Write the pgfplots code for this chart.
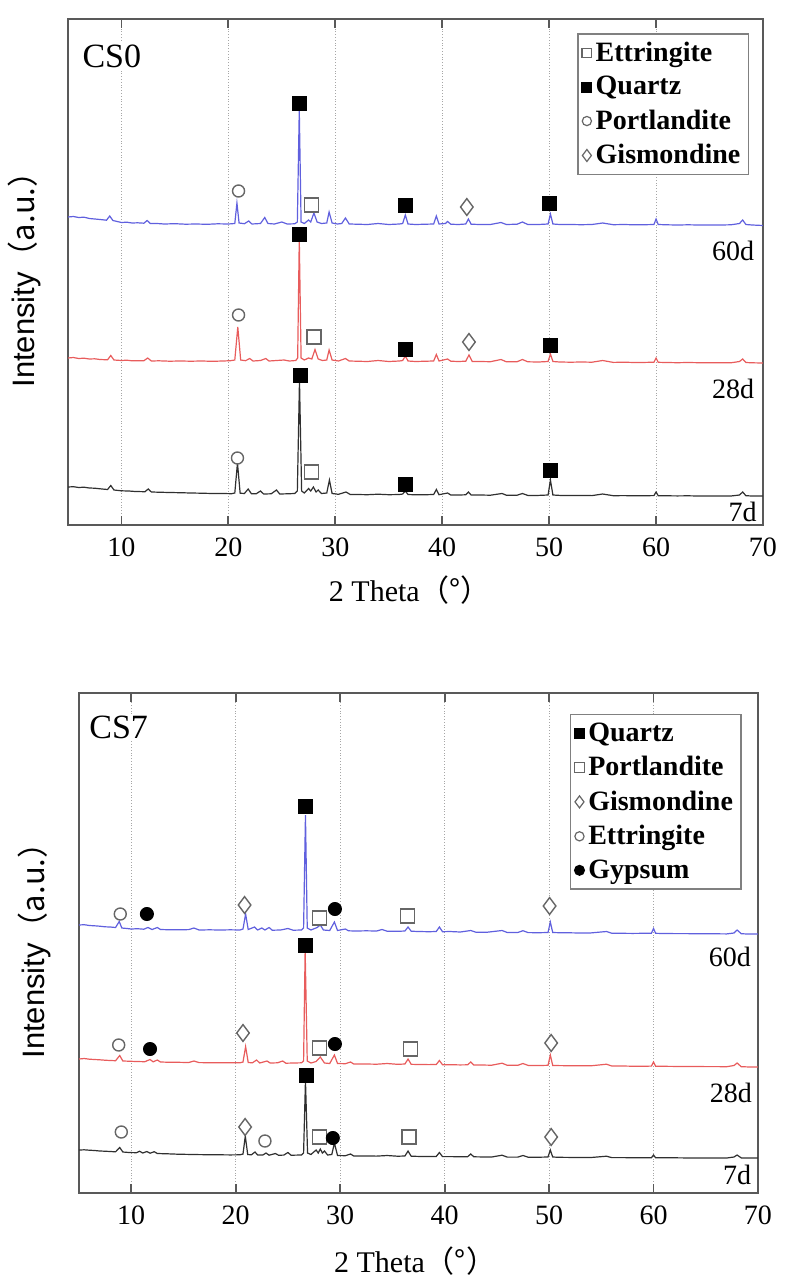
\documentclass[border=0pt]{standalone}
\usepackage{fontspec}
\setmainfont{Liberation Serif}
\newfontfamily\sansf{Liberation Sans}
\newfontfamily\cjk{Noto Sans CJK SC}
\usepackage{pgfplots}
\pgfplotsset{compat=1.18}
\definecolor{cblue}{RGB}{96,96,222}
\definecolor{cred}{RGB}{232,92,92}
\definecolor{cblack}{RGB}{48,48,48}
\pgfplotsset{
  xrdaxis/.style={
    scale only axis,
    xmin=5, xmax=70, xtick={10,20,...,70},
    ytick=\empty,
    xmajorgrids, grid style={densely dotted, black!35, line width=0.5pt},
    axis line style={black!65, line width=1.1pt},
    major tick length=4.5pt, tick align=inside,
    xtick pos=both, xticklabel pos=bottom,
    major tick style={black!65, line width=0.9pt},
    /pgf/number format/assume math mode=true,
    xticklabel style={font=\rmfamily\fontsize{14pt}{16pt}\selectfont, yshift=-3pt},
    xlabel style={font=\rmfamily\fontsize{15pt}{17pt}\selectfont, anchor=center},
    ylabel style={font=\sansf\fontsize{15.5pt}{17pt}\selectfont, anchor=center},
    legend style={font=\rmfamily\fontsize{14pt}{16pt}\selectfont\bfseries, draw=black!50, line width=0.7pt,
      fill=white, inner sep=2pt, row sep=2pt, cells={anchor=west}, anchor=north east},
    legend cell align=left,
  },
  fsq/.style={only marks, mark=square*, mark size=3.5pt, mark options={fill=black, draw=black}},
  osq/.style={only marks, mark=square*, mark size=3.5pt, mark options={fill=white, draw=black!60, line width=0.7pt}},
  ocir/.style={only marks, mark=*, mark size=3pt, mark options={fill=white, draw=black!60, line width=0.7pt}},
  fcir/.style={only marks, mark=*, mark size=3.3pt, mark options={fill=black, draw=black}},
  dia/.style={only marks, mark=diamond*, mark size=4.2pt, mark options={fill=white, draw=black!60, line width=0.7pt}},
  lfsq/.style={only marks, mark=square*, mark size=2.4pt, mark options={fill=black, draw=black}},
  losq/.style={only marks, mark=square*, mark size=2.4pt, mark options={fill=white, draw=black!60, line width=0.6pt}},
  locir/.style={only marks, mark=*, mark size=2.3pt, mark options={fill=white, draw=black!60, line width=0.6pt}},
  lfcir/.style={only marks, mark=*, mark size=2.4pt, mark options={fill=black, draw=black}},
  ldia/.style={only marks, mark=diamond*, mark size=3pt, mark options={fill=white, draw=black!60, line width=0.6pt}},
}
\begin{document}
\begin{tikzpicture}
\path[use as bounding box] (0,0) rectangle (392.5pt,-639.5pt);
% ---------------- CS0 ----------------
\begin{axis}[xrdaxis,
  at={(34pt,-262.5pt)}, anchor=south west,
  width=347.5pt, height=253pt, ymin=0, ymax=506,
  xlabel={2 Theta\cjk{（}°\cjk{）}},
  xlabel style={at={(axis description cs:0.492,-0.128)}},
  ylabel={Intensity\cjk{（}a.u.\cjk{）}},
  ylabel style={at={(axis description cs:-0.062,0.5)}},
  legend style={at={(axis description cs:0.98,0.972)}},
]
\addlegendimage{losq}\addlegendentry{Ettringite}
\addlegendimage{lfsq}\addlegendentry{Quartz}
\addlegendimage{locir}\addlegendentry{Portlandite}
\addlegendimage{ldia}\addlegendentry{Gismondine}
% 60d
\addplot[cblue, line width=0.6pt, forget plot] coordinates {
(5,308) (5.5,308.5) (6,307.5) (6.5,307.8) (7,306.5) (7.5,306) (8,305.5) (8.6,304.8) (8.9,309) (9.2,304.5) (9.6,303.5) (10,302.5) (10.5,302.8) (11,302) (11.5,302.2) (12.1,301.8) (12.4,304.5) (12.7,301.5) (13.2,301.6) (14,301) (15,301.3) (16,300.8) (17,301) (18,300.7) (19,301.2) (20,301) (20.6,301.5) (20.8,322) (21.0,302) (21.5,301.3) (21.9,304) (22.2,301) (23,301.5) (23.4,307.5) (23.7,301.5) (24.3,301) (25,303) (25.5,301) (26.2,301.2) (26.45,303) (26.63,415) (26.8,303) (27.1,301.5) (27.5,305) (27.7,303) (28.0,312) (28.3,303) (28.7,301.5) (29.2,302) (29.42,313) (29.7,302) (30.2,301) (30.6,301.5) (30.95,307) (31.3,301) (32,300.8) (33,300.5) (34,301.5) (35,300.5) (36,301) (36.3,301.5) (36.55,310) (36.8,301) (37.5,300.5) (38.5,300.8) (39.2,301) (39.45,309) (39.7,301) (40.3,301.5) (40.5,303.5) (40.8,300.8) (41.5,300.5) (42.2,301) (42.45,306) (42.7,300.8) (43.5,300.5) (44.5,300.5) (45.5,302.5) (46,300.5) (47,300.8) (47.5,303) (48,300.5) (49,300.5) (49.9,301) (50.12,311) (50.35,301) (51,300.5) (52,300.5) (53,300.3) (54,300.5) (55,302) (56,300.3) (57,300.5) (58,300.2) (59,300.3) (59.8,300.5) (60,306) (60.2,300.5) (61,300.2) (62,300) (63,300.2) (64,300) (65,300) (66,300) (67,300.2) (67.8,301.5) (68.1,305) (68.4,300.5) (69,300) (70,299.5)
};
% 28d
\addplot[cred, line width=0.6pt, forget plot] coordinates {
(5,167) (5.5,167.5) (6,166.5) (6.5,166.8) (7,166) (7.5,166.2) (8,165.5) (8.7,165.2) (9.0,169.5) (9.3,165) (10,164.5) (10.5,164.8) (11,164.2) (12.1,164.3) (12.45,167) (12.8,164) (13.5,164.2) (14.5,163.8) (15.5,164) (16.5,163.8) (17.5,164) (18.5,163.7) (19.5,164) (20.2,164.3) (20.6,165) (20.88,198) (21.15,165) (21.6,164.3) (22.0,166.5) (22.3,164) (23,164.5) (23.5,166.5) (23.8,164) (24.5,164.5) (25.2,165) (25.7,164) (26.3,164.5) (26.48,167) (26.63,286) (26.8,167) (27.1,165) (27.5,167) (27.8,166) (28.1,175.5) (28.4,166) (28.8,164.5) (29.2,165) (29.42,175) (29.7,165) (30.3,164) (30.95,166.5) (31.3,164) (32,163.8) (33,163.5) (34,164.5) (35,163.5) (36,164) (36.3,164.5) (36.55,169) (36.8,164) (37.5,163.5) (38.5,163.8) (39.2,164) (39.45,170.5) (39.7,164) (40.5,166) (40.8,163.8) (41.5,163.5) (42.2,163.8) (42.5,170) (42.8,163.6) (43.5,163.5) (44.5,163.3) (45.5,165.5) (46,163.2) (47,163.3) (47.5,165.5) (48,163.2) (49,163) (49.9,163.5) (50.12,171) (50.35,163.5) (51,163) (52,162.8) (53,163) (54,162.8) (55,164.5) (56,162.6) (57,162.8) (58,162.5) (59,162.6) (59.8,162.8) (60,167) (60.2,162.7) (61,162.5) (62,162.3) (63,162.5) (64,162.3) (65,162.2) (66,162.3) (67,162.2) (67.8,163.5) (68.1,166) (68.4,162.5) (69,162.2) (70,162)
};
% 7d
\addplot[cblack, line width=0.6pt, forget plot] coordinates {
(5,38) (5.5,38.3) (6,37.5) (6.5,37.8) (7,37) (7.5,36.8) (8,36.2) (8.7,35.5) (9.0,39.5) (9.3,35) (10,34.2) (10.7,34) (11.3,33.5) (12.2,33.3) (12.5,36) (12.8,33) (13.5,32.8) (14.5,32.5) (15.5,32.3) (16.5,32) (17.5,31.8) (18.5,31.5) (19.5,31.5) (20.3,31.3) (20.6,32) (20.85,62) (21.1,31.8) (21.5,31.5) (21.85,36) (22.15,31.3) (22.6,31.2) (23.0,34) (23.3,31) (24.0,31.2) (24.5,35) (24.8,31) (25.5,31.2) (26.2,31.5) (26.45,34) (26.65,144.5) (26.85,34) (27.1,32) (27.5,36.5) (27.7,34) (27.95,38) (28.2,33) (28.4,35) (28.7,31.5) (29.2,32) (29.45,45) (29.7,31.5) (30.3,30.7) (31.0,33) (31.4,30.5) (32,30.5) (33,30.3) (34,30.8) (35,30.3) (36,30.5) (36.3,31) (36.55,34) (36.8,30.5) (37.5,30.2) (38.5,30.3) (39.2,30.5) (39.45,35.5) (39.7,30.3) (40.5,32) (40.8,30) (41.5,30) (42.2,30.2) (42.45,33) (42.7,30) (43.5,30) (44.5,29.8) (45.6,31.5) (46,29.8) (47,29.8) (47.5,31.5) (48,29.6) (49,29.6) (49.9,30) (50.12,45) (50.35,30) (51,29.6) (52,29.5) (53,29.5) (54,29.4) (55,31) (56,29.3) (57,29.4) (58,29.2) (59,29.3) (59.8,29.4) (60,33) (60.2,29.3) (61,29.2) (62,29.1) (63,29.2) (64,29) (65,29) (66,29.1) (67,29) (67.8,30) (68.1,33) (68.4,29.3) (69,29) (70,29)
};
\addplot[fsq, forget plot] coordinates {(26.6,422) (36.55,320) (50.05,322) (26.6,291) (36.55,176) (50.1,180) (26.7,150) (36.55,41) (50.1,55)};
\addplot[osq, forget plot] coordinates {(27.8,320) (28.0,188) (27.8,53)};
\addplot[ocir, forget plot] coordinates {(20.95,334) (20.95,210) (20.85,67)};
\addplot[dia, forget plot] coordinates {(42.3,318) (42.5,183)};
\node[fill=white, inner sep=1pt, font=\fontsize{17pt}{19pt}\selectfont] at (axis cs:9.1,469) {CS0};
\node[font=\fontsize{14pt}{16pt}\selectfont] at (axis cs:67.2,274) {60d};
\node[font=\fontsize{14pt}{16pt}\selectfont] at (axis cs:67.2,136) {28d};
\node[font=\fontsize{14pt}{16pt}\selectfont] at (axis cs:68.1,13) {7d};
\end{axis}
% ---------------- CS7 ----------------
\begin{axis}[xrdaxis,
  at={(39.5pt,-596.5pt)}, anchor=south west,
  width=339.5pt, height=250pt, ymin=0, ymax=500,
  xlabel={2 Theta\cjk{（}°\cjk{）}},
  xlabel style={at={(axis description cs:0.495,-0.136)}},
  ylabel={Intensity\cjk{（}a.u.\cjk{）}},
  ylabel style={at={(axis description cs:-0.065,0.5)}},
  legend style={at={(axis description cs:0.976,0.958)}},
]
\addlegendimage{lfsq}\addlegendentry{Quartz}
\addlegendimage{losq}\addlegendentry{Portlandite}
\addlegendimage{ldia}\addlegendentry{Gismondine}
\addlegendimage{locir}\addlegendentry{Ettringite}
\addlegendimage{lfcir}\addlegendentry{Gypsum}
% 60d
\addplot[cblue, line width=0.6pt, forget plot] coordinates {
(5,268) (5.5,268.3) (6,267.5) (6.5,267.2) (7,266.8) (7.5,266.2) (8,266) (8.5,265.5) (8.85,271.5) (9.1,265) (9.6,264.5) (10,264) (10.6,264.3) (11.2,263.8) (11.6,265.5) (12,263.5) (12.5,265.5) (12.8,263.5) (13.5,263.3) (14.5,263.2) (15.5,263.4) (16,265) (16.5,263) (17.5,263.2) (18.5,263) (19.5,263.2) (20.4,263) (20.7,264) (20.95,279) (21.2,263.5) (21.8,266) (22.1,263) (22.5,265) (22.8,263) (23.2,265.5) (23.5,262.8) (24.3,263) (25,264.5) (25.5,262.8) (26.3,263) (26.5,265) (26.68,378) (26.85,265) (27.2,263) (27.8,265.5) (28.1,268) (28.4,263) (29.0,262.5) (29.45,271) (29.75,262.5) (30.5,264) (30.8,262.2) (31.5,262) (32.5,262.2) (33.5,262) (34,263.5) (34.5,261.8) (35.5,261.7) (36.2,262) (36.5,266) (36.8,261.8) (37.5,261.5) (38.5,261.3) (39.2,261.5) (39.5,266) (39.8,261.3) (40.5,261.5) (41.5,261) (42.5,262.5) (43,260.8) (44,260.7) (45.5,262.5) (46,260.5) (47,260.5) (47.5,262.3) (48,260.4) (49,260.3) (49.9,260.5) (50.12,271) (50.35,260.5) (51,260.3) (52,260.2) (53,260) (54,260.1) (55.5,261.5) (56,259.8) (57,259.7) (58,259.6) (59,259.7) (59.8,259.8) (60,264.5) (60.2,259.7) (61,259.5) (62,259.4) (63,259.4) (64,259.3) (65,259.2) (66,259.2) (67,259.1) (67.7,260) (68.0,263) (68.4,259.3) (69,259) (70,259)
};
% 28d
\addplot[cred, line width=0.6pt, forget plot] coordinates {
(5,134) (5.5,134.5) (6,133.8) (6.5,133.5) (7,133.2) (7.5,132.8) (8,132.5) (8.5,132.3) (8.9,137.5) (9.2,132) (9.8,131.8) (10.5,131.5) (11.3,131.3) (11.8,133.5) (12.1,131.2) (12.5,133) (12.8,131) (13.5,130.8) (14.5,130.7) (15.5,130.5) (16,132) (16.5,130.4) (17.5,130.3) (18.5,130.2) (19.5,130.3) (20.4,130.2) (20.7,131) (20.95,146.4) (21.2,130.5) (21.6,130.2) (22.0,133) (22.3,130) (23.0,132) (23.3,130) (24,130.2) (24.5,132) (24.8,129.8) (25.5,130) (26.3,130.2) (26.5,132) (26.65,243) (26.85,132) (27.2,130) (27.7,131.5) (28.1,136) (28.5,130) (29.0,129.5) (29.45,138) (29.75,129.5) (30.5,129.3) (31.0,131) (31.3,129) (32.5,129) (33.5,128.8) (34.5,129.5) (35.5,128.7) (36.2,129) (36.5,134) (36.8,128.7) (37.5,128.5) (38.5,128.4) (39.2,128.5) (39.5,132.5) (39.8,128.3) (40.5,128.3) (41.5,128.1) (42.2,128.2) (42.5,131) (42.8,128) (43.5,128) (44.5,127.8) (45.5,129.8) (46,127.7) (47,127.7) (47.5,129.5) (48,127.6) (49,127.5) (49.9,127.7) (50.12,138) (50.35,127.6) (51,127.4) (52,127.3) (53,127.2) (54,127.2) (55.5,128.8) (56,127) (57,127) (58,126.8) (59,126.8) (59.8,126.9) (60,131) (60.2,126.8) (61,126.7) (62,126.6) (63,126.6) (64,126.5) (65,126.4) (66,126.4) (67,126.3) (67.7,127.5) (68.0,130) (68.4,126.3) (69,126.1) (70,126)
};
% 7d
\addplot[cblack, line width=0.6pt, forget plot] coordinates {
(5,43) (5.5,43.2) (6,42.8) (6.5,42.5) (7,42) (7.5,41.8) (8,41.5) (8.5,41.2) (8.9,45.5) (9.2,41) (9.8,40.5) (10.5,40.3) (10.8,41.8) (11.1,40) (11.5,41.5) (11.8,39.8) (12.2,41.3) (12.5,39.5) (13.5,39.2) (14.5,38.8) (15.5,38.6) (16.5,38.4) (17.5,38.3) (18.5,38.2) (19.5,38.1) (20.4,38.2) (20.7,39) (20.92,57) (21.15,38.5) (21.5,38.2) (21.85,41) (22.1,38) (22.6,38) (22.9,40) (23.2,37.8) (23.8,39.5) (24.1,37.8) (24.6,37.9) (25.0,40.5) (25.3,37.8) (26.3,38) (26.5,40) (26.68,112.5) (26.88,40) (27.2,38.5) (27.7,43) (27.9,40) (28.1,44) (28.3,40) (28.5,42) (28.8,38) (29.2,38.5) (29.45,50) (29.75,37.5) (30.5,37.3) (31.0,39) (31.3,37) (32.5,37) (33.5,36.9) (34.5,37.5) (35.5,36.8) (36.2,37) (36.5,42) (36.8,36.8) (37.5,36.6) (38.5,36.5) (39.2,36.6) (39.5,40.5) (39.8,36.4) (40.5,36.4) (41.5,36.3) (42.2,36.3) (42.5,39) (42.8,36.2) (43.5,36.1) (44.5,36) (45.5,37.8) (46,35.9) (47,35.9) (47.5,37.5) (48,35.8) (49,35.8) (49.9,36) (50.12,43) (50.35,36) (51,35.7) (52,35.6) (53,35.6) (54,35.5) (55.5,36.8) (56,35.4) (57,35.4) (58,35.3) (59,35.3) (59.8,35.3) (60,38) (60.2,35.2) (61,35.2) (62,35.2) (63,35.1) (64,35.1) (65,35.1) (66,35) (67,35) (67.7,36) (68.0,38) (68.4,35.1) (69,35) (70,35)
};
\addplot[fsq, forget plot] coordinates {(26.65,387) (26.65,248) (26.8,118)};
\addplot[osq, forget plot] coordinates {(28.0,275) (36.45,277) (28.05,145) (36.75,144) (28.0,56) (36.6,56)};
\addplot[dia, forget plot] coordinates {(20.85,288) (50.05,287) (20.7,160) (50.2,150) (20.9,66) (50.2,56)};
\addplot[ocir, forget plot] coordinates {(8.95,279) (8.8,148) (9.05,61) (22.8,52)};
\addplot[fcir, forget plot] coordinates {(11.5,279) (29.5,284) (11.8,144) (29.5,149) (29.3,55)};
\node[fill=white, inner sep=1pt, font=\fontsize{17pt}{19pt}\selectfont] at (axis cs:8.8,466) {CS7};
\node[font=\fontsize{14pt}{16pt}\selectfont] at (axis cs:67.3,236) {60d};
\node[font=\fontsize{14pt}{16pt}\selectfont] at (axis cs:67.4,100) {28d};
\node[font=\fontsize{14pt}{16pt}\selectfont] at (axis cs:68.0,18) {7d};
\end{axis}
\end{tikzpicture}
\end{document}
